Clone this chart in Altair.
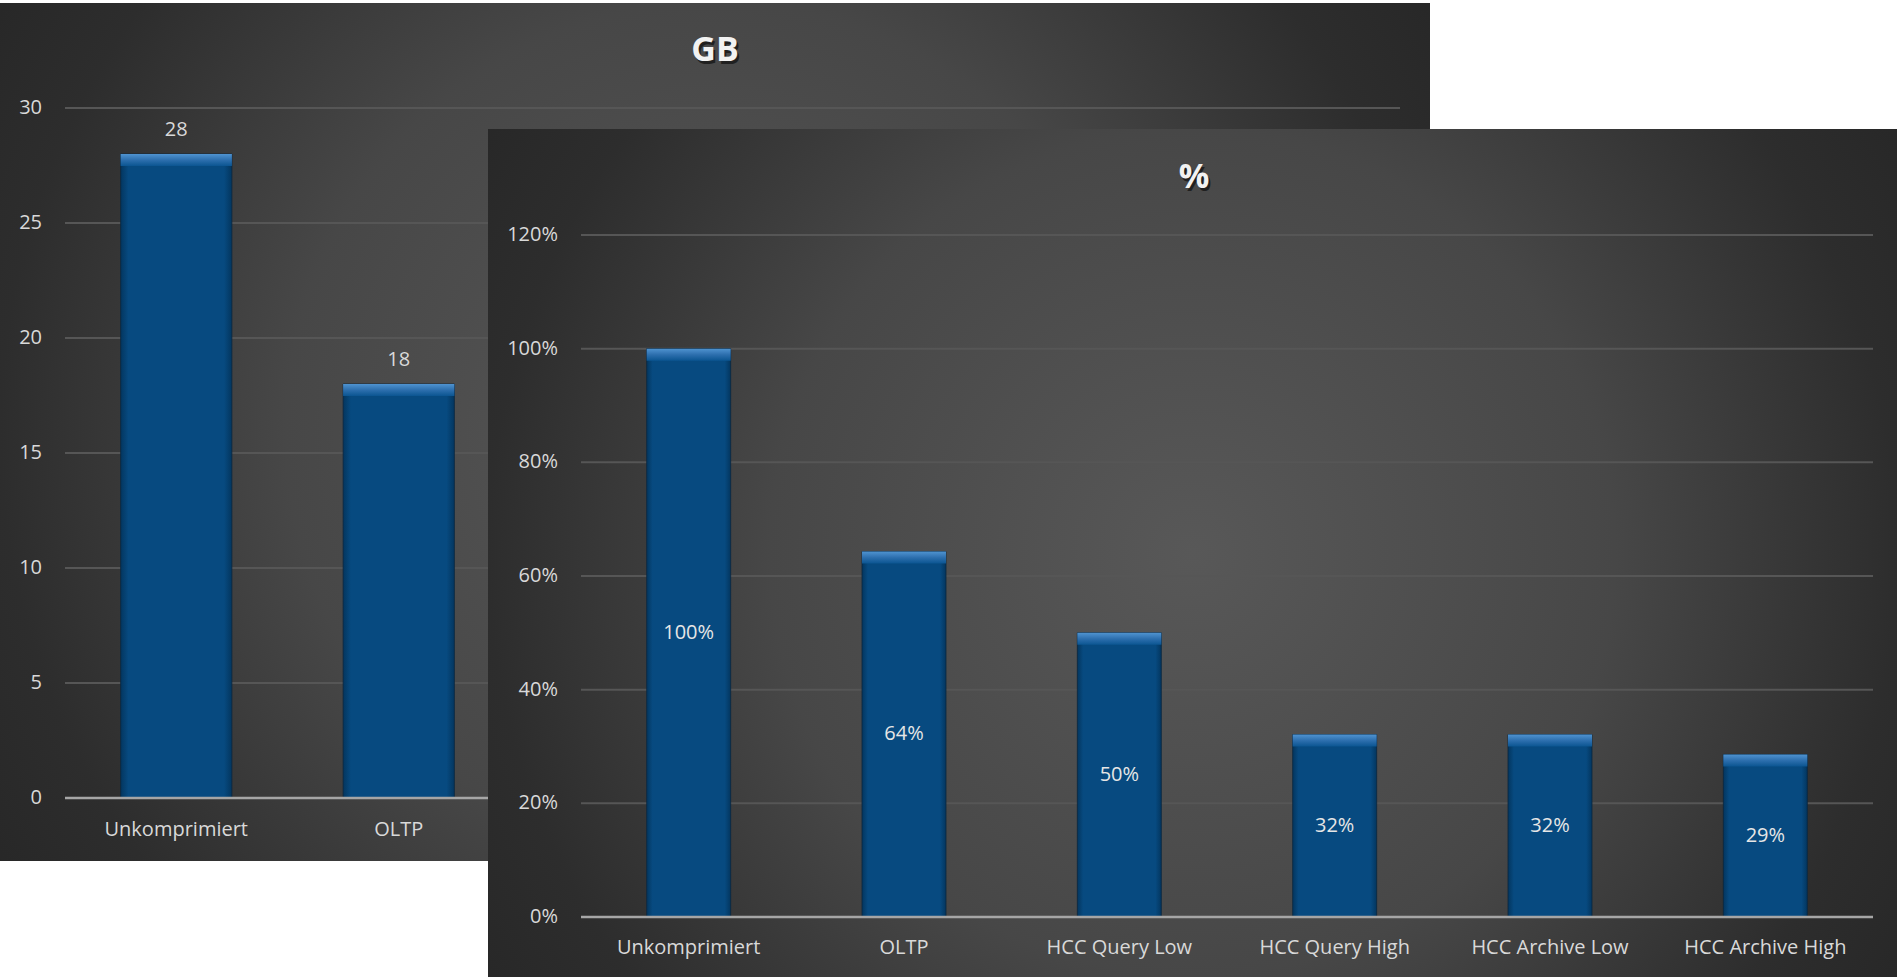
import altair as alt
import pandas as pd

# ---------------- data ----------------
categories = ["Unkomprimiert", "OLTP", "HCC Query Low", "HCC Query High",
              "HCC Archive Low", "HCC Archive High"]
gb_values = [28, 18, 14, 9, 9, 8]
gb_labels = ["28", "18", "14", "9", "9", "8"]
pct_values = [1.00, 0.643, 0.50, 0.321, 0.321, 0.286]
pct_labels = ["100%", "64%", "50%", "32%", "32%", "29%"]
gb_ticks = [0, 5, 10, 15, 20, 25, 30]
gb_tick_labels = ["0", "5", "10", "15", "20", "25", "30"]
pct_ticks = [0.0, 0.2, 0.4, 0.6, 0.8, 1.0, 1.2]
pct_tick_labels = ["0%", "20%", "40%", "60%", "80%", "100%", "120%"]
# categories of the back (GB) chart that are not hidden by the front chart
back_visible = ["Unkomprimiert", "OLTP"]

# ---------------- styling ----------------
W, H = 1897, 977
FONT = "Open Sans"
LABEL = "#d9d9d9"
GRID = "#565656"
BASE = "#a6a6a6"

one = pd.DataFrame({"k": [0]})

def bg_gradient():
    return alt.Gradient(
        gradient="radial", x1=0.5, y1=0.5, r1=0, x2=0.5, y2=0.5, r2=1,
        stops=[alt.GradientStop(color="#585858", offset=0),
               alt.GradientStop(color="#474747", offset=0.30),
               alt.GradientStop(color="#2d2d2d", offset=0.50),
               alt.GradientStop(color="#282828", offset=0.58),
               alt.GradientStop(color="#262626", offset=1)])

bar_fill = alt.Gradient(
    gradient="linear", x1=0, y1=0, x2=1, y2=0,
    stops=[alt.GradientStop(color="#03365f", offset=0),
           alt.GradientStop(color="#074a80", offset=0.07),
           alt.GradientStop(color="#074a80", offset=0.93),
           alt.GradientStop(color="#03365f", offset=1)])

bevel_fill = alt.Gradient(
    gradient="linear", x1=0, y1=0, x2=0, y2=1,
    stops=[alt.GradientStop(color="#4f93d0", offset=0),
           alt.GradientStop(color="#2d6fae", offset=0.5),
           alt.GradientStop(color="#0b5591", offset=1)])


def panel(x0, x1, y0, y1, title, tx, ty, xs, ys, vals, vlabels, ticks, tlabels,
          label_right, label_y, grid_x0, grid_x1, inside, shown_cats):
    bg = alt.Chart(one).mark_rect(fill=bg_gradient()).encode(
        x=alt.value(x0), x2=alt.value(x1), y=alt.value(y0), y2=alt.value(y1))
    title_shadow = alt.Chart(one).mark_text(
        font=FONT, fontSize=34, fontWeight="bold", color="#000000", opacity=0.55,
        align="center", baseline="middle").encode(
        x=alt.value(tx + 2), y=alt.value(ty + 3), text=alt.value(title))
    title_txt = alt.Chart(one).mark_text(
        font=FONT, fontSize=34, fontWeight="bold", color="#f2f2f2",
        align="center", baseline="middle").encode(
        x=alt.value(tx), y=alt.value(ty), text=alt.value(title))

    tick_df = pd.DataFrame({"t": ticks, "lab": tlabels})
    grid = alt.Chart(tick_df[tick_df["t"] > 0]).mark_rule(
        color=GRID, strokeWidth=2).encode(
        y=alt.Y("t:Q", scale=ys, axis=None),
        x=alt.value(grid_x0), x2=alt.value(grid_x1))
    ylabels = alt.Chart(tick_df).mark_text(
        font=FONT, fontSize=20, color=LABEL, align="right", baseline="middle").encode(
        y=alt.Y("t:Q", scale=ys, axis=None), x=alt.value(label_right), text="lab:N")

    df = pd.DataFrame({"cat": categories, "v": vals, "lab": vlabels})
    bars = alt.Chart(df).mark_bar(fill=bar_fill, stroke="#0a2740",
                                  strokeWidth=1, strokeOpacity=0.8).encode(
        x=alt.X("cat:N", scale=xs, axis=None, sort=categories),
        y=alt.Y("v:Q", scale=ys, axis=None))
    bevel = alt.Chart(df).mark_bar(fill=bevel_fill, y2Offset=12).encode(
        x=alt.X("cat:N", scale=xs, axis=None, sort=categories),
        y=alt.Y("v:Q", scale=ys, axis=None), y2="v:Q")
    base = alt.Chart(tick_df[tick_df["t"] == 0]).mark_rule(
        color=BASE, strokeWidth=2.5).encode(
        y=alt.Y("t:Q", scale=ys, axis=None),
        x=alt.value(grid_x0), x2=alt.value(grid_x1))
    shown = alt.FieldOneOfPredicate(field="cat", oneOf=shown_cats)
    xlabels = alt.Chart(df).transform_filter(shown).mark_text(
        font=FONT, fontSize=20, color=LABEL, align="center", baseline="middle").encode(
        x=alt.X("cat:N", scale=xs, axis=None, sort=categories),
        y=alt.value(label_y), text="cat:N")
    if inside:
        vtext = alt.Chart(df).transform_filter(shown).transform_calculate(
            mid="datum.v / 2").mark_text(
            font=FONT, fontSize=20, color="#e6e6e6", align="center",
            baseline="middle").encode(
            x=alt.X("cat:N", scale=xs, axis=None, sort=categories),
            y=alt.Y("mid:Q", scale=ys, axis=None), text="lab:N")
    else:
        vtext = alt.Chart(df).transform_filter(shown).mark_text(
            font=FONT, fontSize=20, color=LABEL, align="center",
            baseline="bottom", dy=-14).encode(
            x=alt.X("cat:N", scale=xs, axis=None, sort=categories),
            y=alt.Y("v:Q", scale=ys, axis=None), text="lab:N")
    return alt.layer(bg, title_shadow, title_txt, grid, ylabels, bars, bevel,
                     base, xlabels, vtext)


back_x = alt.Scale(domain=categories, range=[65, 1400], paddingInner=0.5, paddingOuter=0.25)
back_y = alt.Scale(domain=[0, 30], range=[798, 108], nice=False, zero=True)
front_x = alt.Scale(domain=categories, range=[581, 1873], paddingInner=0.61, paddingOuter=0.305)
front_y = alt.Scale(domain=[0, 1.2], range=[917, 235], nice=False, zero=True)

back = panel(0, 1430, 3, 861, "GB", 715, 51, back_x, back_y, gb_values, gb_labels,
             gb_ticks, gb_tick_labels, 42, 830, 65, 1400, inside=False,
             shown_cats=back_visible)

front = panel(488, 1897, 129, 977, "%", 1194, 178, front_x, front_y, pct_values,
              pct_labels, pct_ticks, pct_tick_labels, 558, 948, 581, 1873, inside=True,
              shown_cats=categories)

chart = alt.layer(back, front).resolve_scale(
    x="independent", y="independent"
).properties(
    width=W, height=H, autosize=alt.AutoSizeParams(type="none"), padding=0,
    background="#ffffff"
).configure_view(stroke=None)

chart.save("out.html", embed_options={"renderer": "svg", "actions": False})
